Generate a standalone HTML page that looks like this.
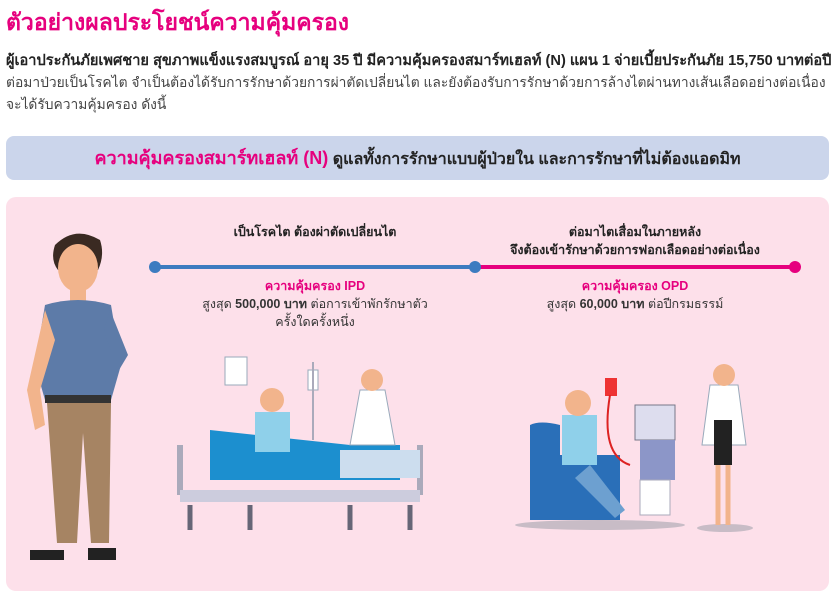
<!DOCTYPE html>
<html><head><meta charset="utf-8"><style>
body{margin:0;width:838px;height:604px;background:#fff;font-family:"Liberation Sans","Noto Sans CJK SC",sans-serif;position:relative;overflow:hidden;color:#333}
.a{position:absolute}
h1{position:absolute;left:6px;top:5px;margin:0;font-size:23px;color:#e6007e;font-weight:bold;white-space:nowrap}
.p{left:6px;top:50px;font-size:13.8px;line-height:22px;color:#444;white-space:nowrap}
.band{left:6px;top:136px;width:823px;height:44px;background:#cbd5eb;border-radius:8px;text-align:center;line-height:44px;font-size:16px;font-weight:bold;color:#222}
.panel{left:6px;top:197px;width:823px;height:394px;background:#fde0ea;border-radius:10px}
.c{text-align:center;font-size:12.5px;line-height:18px;white-space:nowrap}
.pk{color:#e6007e;font-weight:bold}
</style></head><body>
<h1>ตัวอย่างผลประโยชน์ความคุ้มครอง</h1>
<div class="a p"><b style="color:#222;font-size:14.6px">ผู้เอาประกันภัยเพศชาย สุขภาพแข็งแรงสมบูรณ์ อายุ 35 ปี มีความคุ้มครองสมาร์ทเฮลท์ (N) แผน 1 จ่ายเบี้ยประกันภัย 15,750 บาทต่อปี</b><br>ต่อมาป่วยเป็นโรคไต จำเป็นต้องได้รับการรักษาด้วยการผ่าตัดเปลี่ยนไต และยังต้องรับการรักษาด้วยการล้างไตผ่านทางเส้นเลือดอย่างต่อเนื่อง<br>จะได้รับความคุ้มครอง ดังนี้</div>
<div class="a band"><span style="color:#e6007e;font-size:18px">ความคุ้มครองสมาร์ทเฮลท์ (N)</span> ดูแลทั้งการรักษาแบบผู้ป่วยใน และการรักษาที่ไม่ต้องแอดมิท</div>
<div class="a panel"></div>
<div class="a c" style="left:155px;width:320px;top:223px;font-weight:bold;color:#222">เป็นโรคไต ต้องผ่าตัดเปลี่ยนไต</div>
<div class="a c" style="left:475px;width:320px;top:223px;font-weight:bold;color:#222">ต่อมาไตเสื่อมในภายหลัง<br>จึงต้องเข้ารักษาด้วยการฟอกเลือดอย่างต่อเนื่อง</div>
<div class="a" style="left:155px;top:265px;width:320px;height:4px;background:#3d7cc0"></div>
<div class="a" style="left:475px;top:265px;width:320px;height:4px;background:#e6007e"></div>
<div class="a" style="left:149px;top:261px;width:12px;height:12px;border-radius:50%;background:#3d7cc0"></div>
<div class="a" style="left:469px;top:261px;width:12px;height:12px;border-radius:50%;background:#3d7cc0"></div>
<div class="a" style="left:789px;top:261px;width:12px;height:12px;border-radius:50%;background:#e6007e"></div>
<div class="a c" style="left:155px;width:320px;top:277px"><span class="pk">ความคุ้มครอง IPD</span><br>สูงสุด <b>500,000 บาท</b> ต่อการเข้าพักรักษาตัว<br>ครั้งใดครั้งหนึ่ง</div>
<div class="a c" style="left:475px;width:320px;top:277px"><span class="pk">ความคุ้มครอง OPD</span><br>สูงสุด <b>60,000 บาท</b> ต่อปีกรมธรรม์</div>
<svg class="a" style="left:0;top:0" width="838" height="604">
<path d="M55 245 q20 -20 45 -5 q5 15 -2 30 l-40 0 q-8 -10 -3 -25z" fill="#3a2a22"/>
<ellipse cx="78" cy="268" rx="20" ry="24" fill="#f2b48c"/>
<rect x="70" y="288" width="16" height="14" fill="#f2b48c"/>
<path d="M45 305 q33 -10 66 0 l10 60 -10 35 -66 0 -10 -35z" fill="#5d7ba8"/>
<path d="M45 310 l-18 80 8 40 10 -5 -5 -35 15 -50z" fill="#f2b48c"/>
<path d="M110 310 l18 45 -18 30 -10 -8 12 -22 -8 -25z" fill="#5d7ba8"/>
<rect x="45" y="395" width="66" height="8" fill="#333"/>
<path d="M47 403 l64 0 -2 140 -18 0 -8 -110 -6 110 -20 0z" fill="#a68463"/>
<path d="M30 550 l34 0 0 10 -34 0z M88 548 l28 0 0 12 -28 0z" fill="#222"/>
<rect x="225" y="357" width="22" height="28" fill="#fff" stroke="#9ab" />
<path d="M180 445 l0 50 M420 445 l0 50" stroke="#aab" stroke-width="6"/>
<rect x="180" y="490" width="240" height="12" fill="#ccd"/>
<path d="M210 430 l140 15 50 0 0 35 -190 0z" fill="#1c8fcf"/>
<path d="M255 412 l35 0 0 40 -35 0z" fill="#8fd0ea"/>
<circle cx="272" cy="400" r="12" fill="#f2b48c"/>
<rect x="340" y="450" width="80" height="28" fill="#cde" />
<path d="M360 390 l25 0 10 55 -45 0z" fill="#fff" stroke="#9ab"/>
<circle cx="372" cy="380" r="11" fill="#f2b48c"/>
<rect x="308" y="370" width="10" height="20" fill="#fff" stroke="#9ab"/>
<line x1="313" y1="362" x2="313" y2="440" stroke="#aab" stroke-width="2"/>
<path d="M190 505 l0 25 M250 505 l0 25 M350 505 l0 25 M410 505 l0 25" stroke="#667" stroke-width="5"/>
<ellipse cx="600" cy="525" rx="85" ry="5" fill="#c8bcc6"/>
<ellipse cx="725" cy="528" rx="28" ry="4" fill="#c8bcc6"/>
<path d="M530 425 q10 -5 30 0 l0 95 -30 0z" fill="#2a6fb8"/>
<path d="M550 455 l70 0 0 65 -70 0z" fill="#2a6fb8"/>
<path d="M562 415 l35 0 0 50 -35 0z" fill="#8fd0ea"/>
<circle cx="578" cy="403" r="13" fill="#f2b48c"/>
<path d="M590 465 l35 45 -10 8 -40 -40z" fill="#6da0d0"/>
<rect x="635" y="405" width="40" height="35" fill="#dde" stroke="#778"/>
<rect x="640" y="440" width="35" height="40" fill="#8c96c8"/>
<rect x="640" y="480" width="30" height="35" fill="#fff" stroke="#aab"/>
<rect x="605" y="378" width="12" height="18" fill="#e33"/>
<path d="M610 395 q-10 60 20 70" stroke="#d22" stroke-width="2" fill="none"/>
<path d="M710 385 l28 0 8 60 -44 0z" fill="#fff" stroke="#9ab"/>
<rect x="714" y="420" width="18" height="45" fill="#222"/>
<circle cx="724" cy="375" r="11" fill="#f2b48c"/>
<path d="M718 465 l0 60 M728 465 l0 60" stroke="#f2b48c" stroke-width="5"/>
</svg>
</body></html>
